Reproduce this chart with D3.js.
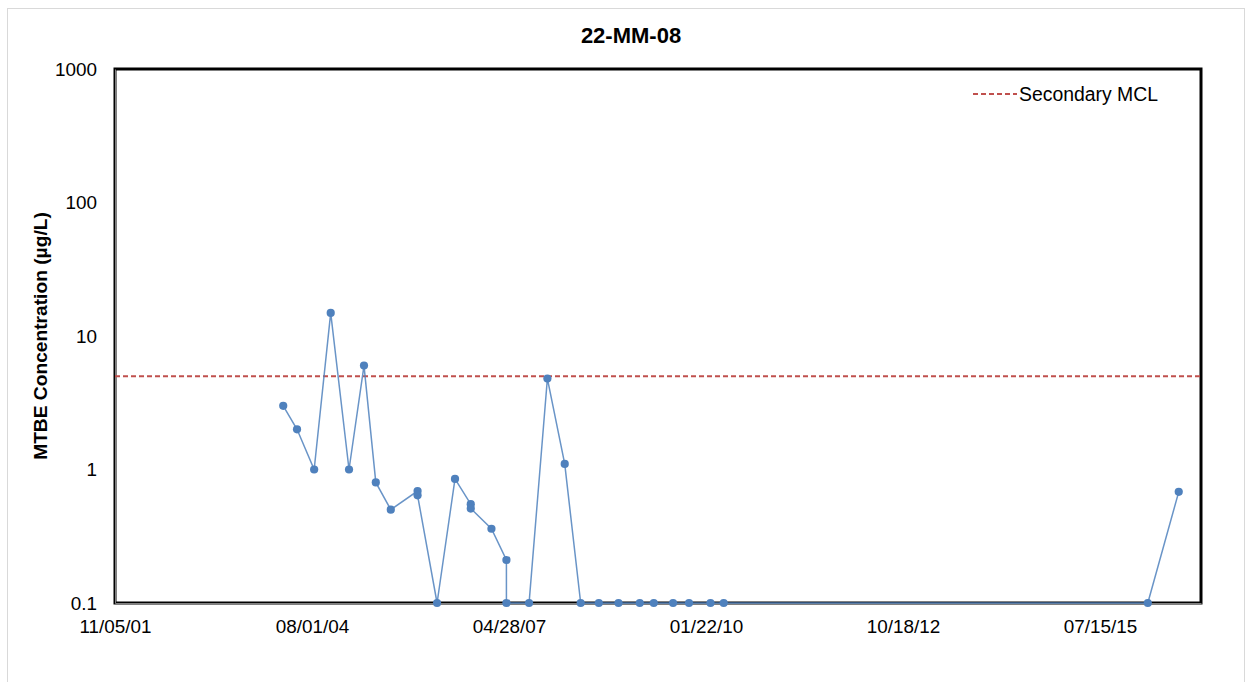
<!DOCTYPE html>
<html>
<head>
<meta charset="utf-8">
<script src="https://cdn.jsdelivr.net/npm/d3@7"></script>
<style>
  html, body { margin: 0; padding: 0; background: #fff; }
  svg { display: block; font-family: "Liberation Sans", Arial, sans-serif; }
</style>
</head>
<body>
<svg id="chart" width="1253" height="682"></svg>
<script>
// ---- data ----
const chartTitle = "22-MM-08";
const yAxisTitle = "MTBE Concentration (µg/L)";
const seriesName = "MTBE";
const sampleDates = [
  "03/08/04","05/17/04","08/12/04","11/04/04","02/05/05","04/22/05","06/21/05","09/05/05",
  "01/19/06","01/19/06","04/28/06","07/28/06","10/16/06","10/16/06","01/29/07","04/15/07","04/15/07",
  "08/08/07","11/09/07","02/05/08","04/26/08","07/27/08","11/04/08","02/20/09","05/02/09",
  "08/08/09","10/28/09","02/14/10","04/22/10","03/14/16","08/18/16"
];
const mtbeValues = [
  3.0, 2.0, 1.0, 14.9, 1.0, 6.0, 0.8, 0.5,
  0.69, 0.64, 0.1, 0.85, 0.55, 0.51, 0.36, 0.21, 0.1,
  0.1, 4.8, 1.1, 0.1, 0.1, 0.1, 0.1, 0.1,
  0.1, 0.1, 0.1, 0.1, 0.1, 0.68
];
const mclName = "Secondary MCL";
const mclValue = 5;
const xTickLabels = ["11/05/01","08/01/04","04/28/07","01/22/10","10/18/12","07/15/15"];
const xDomainLabels = ["11/05/01","12/09/16"];
const yTickValues = [0.1, 1, 10, 100, 1000];

// ---- layout ----
const svg = d3.select("#chart");
const plot = { left: 115, right: 1201, top: 69, bottom: 603 };
const parse = d3.utcParse("%m/%d/%y");
const fmt = d3.utcFormat("%m/%d/%y");
const fontSize = 18.9;

const x = d3.scaleUtc()
  .domain(xDomainLabels.map(parse))
  .range([plot.left, plot.right]);
const y = d3.scaleLog()
  .domain([0.1, 1000])
  .range([plot.bottom, plot.top]);

const data = sampleDates.map((d, i) => ({ date: parse(d), value: mtbeValues[i] }));

// chart outer border
svg.append("rect")
  .attr("x", 7.5).attr("y", 8.5)
  .attr("width", 1237).attr("height", 690)
  .attr("fill", "#fff")
  .attr("stroke", "#d9d9d9").attr("stroke-width", 1);

// title
svg.append("text")
  .attr("x", 631).attr("y", 43)
  .attr("text-anchor", "middle")
  .attr("font-weight", "bold")
  .attr("font-size", 22)
  .attr("fill", "#000")
  .text(chartTitle);

// plot border
svg.append("rect")
  .attr("x", plot.left).attr("y", plot.top)
  .attr("width", plot.right - plot.left).attr("height", plot.bottom - plot.top)
  .attr("fill", "none")
  .attr("stroke", "#000").attr("stroke-width", 3);

// axes
const yAxis = d3.axisLeft(y)
  .tickValues(yTickValues)
  .tickFormat(d => String(d))
  .tickSize(0).tickPadding(18);
const gy = svg.append("g")
  .attr("transform", `translate(${plot.left},0)`)
  .call(yAxis);
gy.select(".domain").attr("stroke", "#808080").attr("stroke-width", 1);
gy.selectAll("text").attr("font-size", fontSize).attr("fill", "#000")
  .attr("font-family", "'Liberation Sans', Arial, sans-serif");

const xAxis = d3.axisBottom(x)
  .tickValues(xTickLabels.map(parse))
  .tickFormat(fmt)
  .tickSize(0).tickPadding(17);
const gx = svg.append("g")
  .attr("transform", `translate(0,${plot.bottom})`)
  .call(xAxis);
gx.select(".domain").attr("stroke", "#808080").attr("stroke-width", 1);
gx.selectAll("text").attr("font-size", fontSize).attr("fill", "#000")
  .attr("font-family", "'Liberation Sans', Arial, sans-serif");

// y axis title
svg.append("text")
  .attr("transform", `translate(47,${(plot.top + plot.bottom) / 2}) rotate(-90)`)
  .attr("text-anchor", "middle")
  .attr("font-weight", "bold")
  .attr("font-size", 19.2)
  .attr("fill", "#000")
  .text(yAxisTitle);

// MCL line
svg.append("line")
  .attr("x1", plot.left).attr("x2", plot.right)
  .attr("y1", y(mclValue)).attr("y2", y(mclValue))
  .attr("stroke", "#c0504d").attr("stroke-width", 2)
  .attr("stroke-dasharray", "5,3");

// series line
const line = d3.line().x(d => x(d.date)).y(d => y(d.value));
svg.append("path")
  .datum(data)
  .attr("fill", "none")
  .attr("stroke", "#4f81bd").attr("stroke-width", 1.5)
  .attr("stroke-opacity", 0.85)
  .attr("d", line);

// markers
svg.append("g").selectAll("circle")
  .data(data)
  .join("circle")
  .attr("cx", d => x(d.date))
  .attr("cy", d => y(d.value))
  .attr("r", 4.1)
  .attr("fill", "#4f81bd");

// legend
const lg = svg.append("g");
lg.append("line")
  .attr("x1", 973).attr("x2", 1017)
  .attr("y1", 94).attr("y2", 94)
  .attr("stroke", "#c0504d").attr("stroke-width", 2)
  .attr("stroke-dasharray", "5,3");
lg.append("text")
  .attr("x", 1019).attr("y", 101)
  .attr("font-size", 19.4)
  .attr("fill", "#000")
  .text(mclName);
</script>
</body>
</html>
